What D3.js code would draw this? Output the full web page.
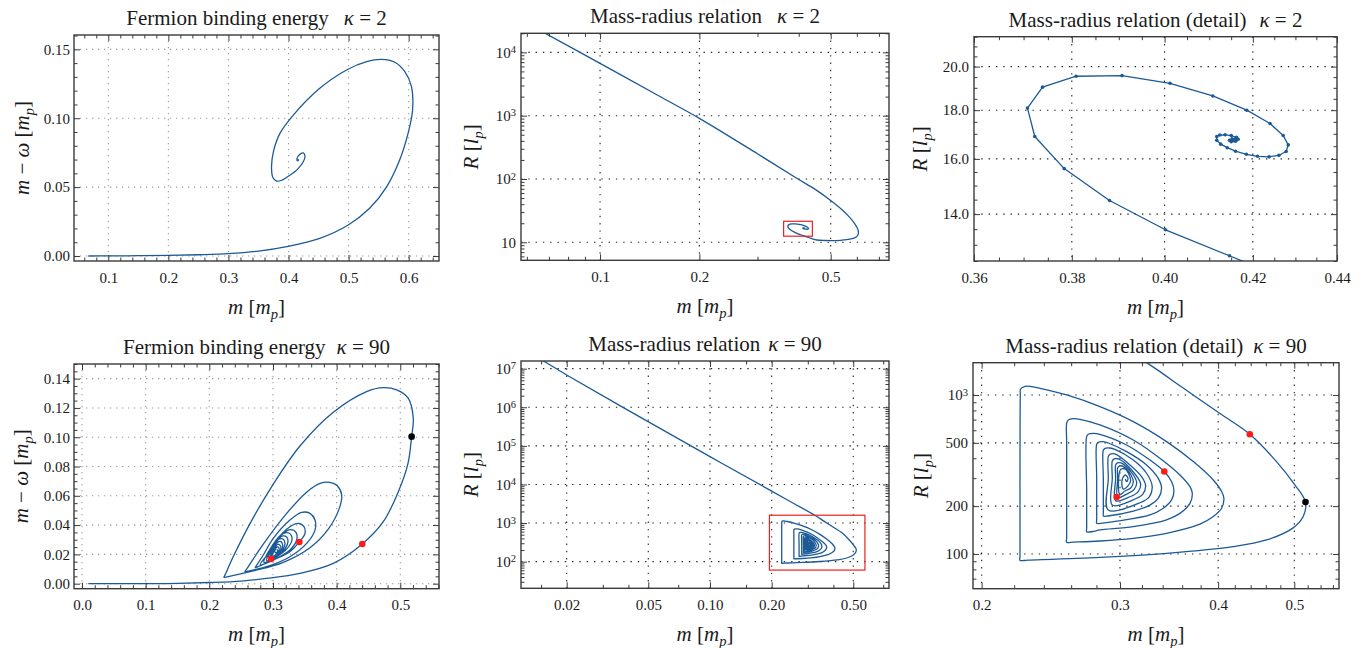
<!DOCTYPE html>
<html><head><meta charset="utf-8">
<script src="https://cdn.jsdelivr.net/npm/d3@7"></script>
<style>
body{margin:0;background:#fff}
svg text{font-family:"Liberation Serif","Times New Roman",serif;fill:#1a1a1a;white-space:pre}
</style>
</head><body>
<svg id="chart" width="1364" height="648"></svg>
<script>
// ---------------- DATA ----------------
// kappa = 2 : binding energy m - omega versus m
const k2_energy = [
 [0.0667,0.0000],[0.10,0.0001],[0.15,0.0002],[0.20,0.0004],[0.25,0.0009],[0.30,0.0017],[0.35,0.0035],
 [0.397,0.0068],[0.452,0.0128],[0.4994,0.0225],[0.535,0.0346],[0.563,0.0500],[0.585,0.0697],[0.599,0.0890],
 [0.6065,0.1060],[0.6047,0.1229],[0.5936,0.1338],[0.577,0.1406],[0.5548,0.1427],[0.530,0.1410],[0.4966,0.1350],
 [0.452,0.1217],[0.408,0.1023],[0.3857,0.0890],[0.3750,0.0760],[0.3717,0.0650],[0.3740,0.0570],[0.3800,0.0544],
 [0.3880,0.0548],[0.3967,0.0570],[0.4163,0.0636],[0.4274,0.0721],[0.4245,0.0748],[0.4180,0.0735],[0.4140,0.0705],
 [0.4150,0.0690],[0.4165,0.0697],[0.4155,0.0702]
];
// kappa = 2 : mass-radius relation (sampled points, shown as dots in the detail view)
const k2_massRadius = [
 [0.0667,21300],[0.10,6700],[0.15,2080],[0.20,908],[0.30,250],[0.3945,102.6],[0.45,68],[0.4977,46.6],[0.54,33],
 [0.57,25],[0.59,20],[0.602,16.8],[0.607,14.5],[0.604,12.9],[0.596,12.0],[0.58,11.4],
 [0.559,11.0],[0.535,10.75],[0.5094,10.62],[0.48,10.68],[0.4536,10.88],[0.4420,11.25],[0.4288,11.92],
 [0.4146,12.66],[0.4002,13.48],[0.3880,14.47],[0.3784,15.63],[0.3723,16.89],[0.3708,18.09],[0.3739,19.03],
 [0.3809,19.54],[0.3907,19.57],[0.4012,19.21],[0.4108,18.63],[0.4186,18.00],[0.4240,17.43],[0.4271,16.93],
 [0.4283,16.55],[0.4278,16.29],[0.4261,16.14],[0.4238,16.08],[0.4211,16.10],[0.4185,16.18],[0.4160,16.30],
 [0.4141,16.44],[0.4126,16.58],[0.4117,16.74],[0.4117,16.89],[0.4124,16.95],[0.4136,16.96],[0.4150,16.93],
 [0.4162,16.86],[0.4166,16.78],[0.4160,16.70],[0.4150,16.68],[0.4146,16.74],[0.4152,16.80],[0.4160,16.79],
 [0.4161,16.74],[0.4156,16.72],[0.4154,16.75],[0.4157,16.76]
];
// kappa = 90 : binding energy versus m
const k90_energy = [
 [0.0099,0.0000],[0.10,0.0000],[0.15,0.0002],[0.20,0.0008],[0.25,0.0018],[0.29,0.0036],[0.3424,0.0071],
 [0.3948,0.0139],[0.4403,0.0271],[0.4733,0.0423],[0.4969,0.0628],[0.5120,0.0820],[0.5178,0.1004],[0.5204,0.1129],
 [0.5126,0.1266],[0.4942,0.1323],[0.4733,0.1338],[0.4471,0.1311],[0.3948,0.1170],[0.3424,0.0940],[0.3005,0.0680],
 [0.2639,0.0410],[0.2377,0.0185],[0.2250,0.0062],[0.2230,0.0043],
 [0.2280,0.0047],[0.2691,0.0087],[0.3162,0.0146],[0.3581,0.0246],[0.3869,0.0373],[0.4042,0.0514],[0.4079,0.0606],[0.4010,0.0669],
 [0.3895,0.0692],[0.3738,0.0685],[0.3529,0.0625],[0.3215,0.0480],[0.2848,0.0270],[0.2590,0.0102],[0.2560,0.0082],
 [0.2600,0.0085],[0.2901,0.0116],[0.3267,0.0184],[0.3529,0.0275],[0.3660,0.0366],[0.3660,0.0435],[0.3581,0.0480],[0.3450,0.0487],
 [0.3267,0.0435],[0.3005,0.0310],[0.2848,0.0196],[0.2745,0.0126],[0.2721,0.0110],
 [0.2760,0.0115],[0.3005,0.0162],[0.3267,0.0219],[0.3414,0.0285],[0.3503,0.0344],[0.3487,0.0389],[0.3398,0.0412],[0.3267,0.0389],
 [0.3058,0.0298],[0.2953,0.0219],[0.2801,0.0130],
 [0.3058,0.0173],[0.3267,0.0230],[0.3372,0.0298],[0.3361,0.0351],[0.3277,0.0369],[0.3136,0.0337],[0.2979,0.0253],[0.2859,0.0146],
 [0.3058,0.0184],[0.3225,0.0241],[0.3298,0.0298],[0.3277,0.0337],[0.3204,0.0348],[0.3084,0.0314],[0.2979,0.0246],[0.2901,0.0157],
 [0.3084,0.0191],[0.3194,0.0241],[0.3236,0.0287],[0.3215,0.0319],[0.3152,0.0326],[0.3058,0.0291],[0.2979,0.0237],[0.2932,0.0168],
 [0.3084,0.0196],[0.3162,0.0237],[0.3188,0.0275],[0.3162,0.0303],[0.3099,0.0305],[0.3031,0.0271],[0.2979,0.0219],[0.2963,0.0175],
 [0.3084,0.0200],[0.3141,0.0234],[0.3152,0.0264],[0.3126,0.0287],[0.3068,0.0282],[0.3016,0.0246],[0.2979,0.0182],
 [0.3073,0.0200],[0.3120,0.0230],[0.3115,0.0260],[0.3073,0.0269],[0.3026,0.0237],[0.3000,0.0189],
 [0.3060,0.0205],[0.3095,0.0228],[0.3085,0.0250],[0.3050,0.0245],[0.3030,0.0215],[0.3060,0.0212],[0.3075,0.0228],[0.3055,0.0232]
];
// kappa = 90 : mass-radius relation
const k90_massRadius = [
 [0.0100,5.6e7],[0.0154,1.58e7],[0.02,6.85e6],[0.0378,9.8e5],[0.10,52600],[0.20,6710],[0.255,3260],[0.3243,1597],
 [0.3611,1105],[0.4021,764],[0.4389,566],[0.4746,381],[0.5008,272],[0.5167,212],[0.5132,172],[0.4983,146],
 [0.4609,122.5],[0.4181,111.2],[0.3439,101],[0.2829,95.3],[0.2290,91.6],[0.2238,91.2],
 [0.2238,97],[0.2238,152],[0.2238,400],[0.2240,1000],[0.2242,1091],[0.2271,1134],[0.2316,1128],[0.2373,1101],[0.2566,1000],
 [0.2829,845],[0.3119,680],[0.3439,509],[0.3719,381],[0.3943,292],[0.4041,247],[0.4068,224],[0.4041,194],
 [0.3943,172],[0.3792,154],[0.3439,135],[0.3119,125.5],[0.2829,120.7],[0.2620,118.8],[0.2566,118.4],
 [0.2566,126],[0.2566,200],[0.2566,500],[0.2566,664],[0.2578,696],[0.2616,710],[0.2668,703],[0.2829,648],[0.3119,521],
 [0.3372,400],[0.3576,314],[0.3683,265],[0.3708,241],[0.3683,208],[0.3576,180],[0.3439,164],[0.3119,148.5],
 [0.2829,141.6],[0.2770,138.5],[0.2721,138.1],
 [0.2721,146],[0.2721,250],[0.2721,547],[0.2734,566],[0.2774,574],[0.2829,566],[0.3059,485],[0.3275,390],[0.3416,330],
 [0.3490,285],[0.3514,250],[0.3490,219],[0.3406,194],[0.3275,176],[0.2971,161],[0.2850,156.4],[0.2802,156],
 [0.2802,164],[0.2802,300],[0.2802,490],[0.2815,504],[0.2857,509],[0.2899,499],[0.3059,440],[0.3243,363],[0.3356,299],
 [0.3389,259],[0.3356,224],[0.3275,203],[0.3119,186],[0.2895,173.4],[0.2857,173],
 [0.2857,181],[0.2857,300],[0.2857,449],[0.2871,462],[0.2913,464],[0.2956,455],[0.3119,390],[0.3243,322],[0.3297,265],
 [0.3269,229],[0.3181,210],[0.2899,189],
 [0.2899,300],[0.2899,411],[0.2913,423],[0.2956,425.5],[0.3089,363],[0.3196,306.5],[0.3234,269],[0.3206,237],
 [0.3119,219],[0.2933,203],
 [0.2933,300],[0.2933,384.5],[0.2948,396],[0.2986,396],[0.3104,337.5],[0.3187,276],[0.3165,247],[0.3089,229],[0.2962,216.5],
 [0.2962,300],[0.2962,363],[0.2977,374],[0.3008,374],[0.3104,325],[0.3150,282],[0.3128,255],[0.3059,238],[0.2980,226],
 [0.2980,300],[0.2980,349],[0.2999,358],[0.3029,356],[0.3098,314],[0.3119,285],[0.3098,261],[0.3044,249],[0.2999,237],
 [0.2999,334],[0.3020,344],[0.3050,341],[0.3095,291],[0.3071,268],[0.3029,256],[0.3017,272],[0.3023,299],
 [0.3047,314],[0.3071,299],[0.3059,285],[0.3047,296]
];
// highlighted configurations
const k90_redMarks_E = [[0.4403,0.0271],[0.3414,0.0285],[0.2969,0.0168]];
const k90_redMarks_R = [[0.4389,566],[0.3416,330],[0.2971,228]];
const k90_blackMark_E = [[0.5178,0.1004]];
const k90_blackMark_R = [[0.5167,212]];

// ticks and labels
const p1_xTicks = [0.1,0.2,0.3,0.4,0.5,0.6], p1_xLabels = ["0.1","0.2","0.3","0.4","0.5","0.6"];
const p1_yTicks = [0,0.05,0.10,0.15], p1_yLabels = ["0.00","0.05","0.10","0.15"];
const p2_xTicks = [0.1,0.2,0.5], p2_xLabels = ["0.1","0.2","0.5"];
const p2_yTicks = [10,100,1000,10000], p2_yLabels = ["10","10^2","10^3","10^4"];
const p3_xTicks = [0.36,0.38,0.40,0.42,0.44], p3_xLabels = ["0.36","0.38","0.40","0.42","0.44"];
const p3_yTicks = [14,16,18,20], p3_yLabels = ["14.0","16.0","18.0","20.0"];
const p4_xTicks = [0,0.1,0.2,0.3,0.4,0.5], p4_xLabels = ["0.0","0.1","0.2","0.3","0.4","0.5"];
const p4_yTicks = [0,0.02,0.04,0.06,0.08,0.10,0.12,0.14], p4_yLabels = ["0.00","0.02","0.04","0.06","0.08","0.10","0.12","0.14"];
const p5_xTicks = [0.02,0.05,0.10,0.20,0.50], p5_xLabels = ["0.02","0.05","0.10","0.20","0.50"];
const p5_yTicks = [1e2,1e3,1e4,1e5,1e6,1e7], p5_yLabels = ["10^2","10^3","10^4","10^5","10^6","10^7"];
const p6_xTicks = [0.2,0.3,0.4,0.5], p6_xLabels = ["0.2","0.3","0.4","0.5"];
const p6_yTicks = [100,200,500,1000], p6_yLabels = ["100","200","500","10^3"];

// ---------------- DRAWING ----------------
const svg = d3.select("#chart");
const BLUE = "#1b5a97", RED = "#ff1a1a", FRAME = "#3a3a3a";
const FONT = '"Liberation Serif","Times New Roman",serif';

function linMinor(dom, step, majors) {
  const out = [];
  const n0 = Math.ceil(dom[0] / step - 1e-9), n1 = Math.floor(dom[1] / step + 1e-9);
  for (let n = n0; n <= n1; n++) {
    const v = +(n * step).toFixed(6);
    if (!majors.some(m => Math.abs(m - v) < step * 1e-3)) out.push(v);
  }
  return out;
}
function logMinor(dom, mults, majors) {
  const out = [];
  for (let e = Math.floor(Math.log10(dom[0])) - 1; e <= Math.ceil(Math.log10(dom[1])); e++) {
    mults.forEach(k => {
      const v = k * Math.pow(10, e);
      if (v >= dom[0] && v <= dom[1] && !majors.some(m => Math.abs(m - v) / v < 1e-6)) out.push(v);
    });
  }
  return out;
}
function richText(sel, parts) {
  parts.forEach(p => {
    const ts = sel.append("tspan").text(p.t);
    if (p.i) ts.attr("font-style", "italic");
    if (p.dx) ts.attr("dx", p.dx);
    if (p.sub) ts.attr("font-size", p.sub).attr("dy", 5);
    if (p.unsub) ts.attr("dy", -5);
  });
}
function supLabel(sel, s) {
  sel.text(null);
  const parts = s.split("^");
  sel.append("tspan").text(parts[0]);
  if (parts[1]) sel.append("tspan").attr("dy", "-0.45em").attr("font-size", 10.5).text(parts[1]);
}

function drawPanel(o) {
  const g = svg.append("g");
  const x = (o.xlog ? d3.scaleLog() : d3.scaleLinear()).domain(o.xdom).range([o.x0, o.x1]);
  const y = (o.ylog ? d3.scaleLog() : d3.scaleLinear()).domain(o.ydom).range([o.y1, o.y0]);
  const cid = "clip" + o.id;
  svg.append("clipPath").attr("id", cid).append("rect")
    .attr("x", o.x0).attr("y", o.y0).attr("width", o.x1 - o.x0).attr("height", o.y1 - o.y0);

  const grid = g.append("g").attr("stroke", o.gridColor).attr("stroke-width", 1.1)
    .attr("stroke-dasharray", o.gridDash).attr("fill", "none");
  o.xTicks.forEach(v => { const p = x(v); if (p > o.x0 + 1 && p < o.x1 - 1)
    grid.append("line").attr("x1", p).attr("x2", p).attr("y1", o.y0).attr("y2", o.y1); });
  o.yTicks.forEach(v => { const p = y(v); if (p > o.y0 + 1 && p < o.y1 - 1)
    grid.append("line").attr("x1", o.x0).attr("x2", o.x1).attr("y1", p).attr("y2", p); });

  const plot = g.append("g").attr("clip-path", `url(#${cid})`);
  const line = d3.line().x(d => x(d[0])).y(d => y(d[1]))
    .curve(o.linear ? d3.curveLinear : d3.curveCatmullRom.alpha(0.5));
  plot.append("path").datum(o.data).attr("d", line).attr("fill", "none")
    .attr("stroke", BLUE).attr("stroke-width", 1.3).attr("stroke-linejoin", "round");
  if (o.dots) plot.append("g").selectAll("circle").data(o.data).join("circle")
    .attr("cx", d => x(d[0])).attr("cy", d => y(d[1])).attr("r", 1.8).attr("fill", BLUE);
  if (o.red) plot.append("g").selectAll("circle").data(o.red).join("circle")
    .attr("cx", d => x(d[0])).attr("cy", d => y(d[1])).attr("r", 3.3).attr("fill", RED);
  if (o.black) plot.append("g").selectAll("circle").data(o.black).join("circle")
    .attr("cx", d => x(d[0])).attr("cy", d => y(d[1])).attr("r", 3.3).attr("fill", "#000");
  if (o.box) plot.append("rect")
    .attr("x", x(o.box[0][0])).attr("y", y(o.box[1][1]))
    .attr("width", x(o.box[0][1]) - x(o.box[0][0])).attr("height", y(o.box[1][0]) - y(o.box[1][1]))
    .attr("fill", "none").attr("stroke", "#ee2020").attr("stroke-width", 1.2);

  function styleAxis(a) {
    a.select(".domain").remove();
    a.attr("font-family", FONT).attr("font-size", 15);
    a.selectAll("line").attr("stroke", FRAME).attr("stroke-width", 1);
    a.selectAll("text").attr("fill", "#1a1a1a");
    return a;
  }
  const bottom = styleAxis(g.append("g").attr("transform", `translate(0,${o.y1})`)
    .call(d3.axisBottom(x).tickValues(o.xTicks).tickSize(-6).tickSizeOuter(0).tickPadding(11)
      .tickFormat((d, i) => o.xLabels[i])));
  styleAxis(g.append("g").attr("transform", `translate(0,${o.y1})`)
    .call(d3.axisBottom(x).tickValues(o.xMinor).tickSize(-3.5).tickSizeOuter(0).tickFormat("")));
  styleAxis(g.append("g").attr("transform", `translate(0,${o.y0})`)
    .call(d3.axisTop(x).tickValues(o.xTicks).tickSize(-6).tickSizeOuter(0).tickFormat("")));
  styleAxis(g.append("g").attr("transform", `translate(0,${o.y0})`)
    .call(d3.axisTop(x).tickValues(o.xMinor).tickSize(-3.5).tickSizeOuter(0).tickFormat("")));
  const left = styleAxis(g.append("g").attr("transform", `translate(${o.x0},0)`)
    .call(d3.axisLeft(y).tickValues(o.yTicks).tickSize(-6).tickSizeOuter(0).tickPadding(o.yPad || 5)
      .tickFormat((d, i) => o.yLabels[i])));
  left.selectAll(".tick text").each(function(d, i) { supLabel(d3.select(this), o.yLabels[i]); });
  bottom.selectAll(".tick text").each(function(d, i) { supLabel(d3.select(this), o.xLabels[i]); });
  styleAxis(g.append("g").attr("transform", `translate(${o.x0},0)`)
    .call(d3.axisLeft(y).tickValues(o.yMinor).tickSize(-3.5).tickSizeOuter(0).tickFormat("")));
  styleAxis(g.append("g").attr("transform", `translate(${o.x1},0)`)
    .call(d3.axisRight(y).tickValues(o.yTicks).tickSize(-6).tickSizeOuter(0).tickFormat("")));
  styleAxis(g.append("g").attr("transform", `translate(${o.x1},0)`)
    .call(d3.axisRight(y).tickValues(o.yMinor).tickSize(-3.5).tickSizeOuter(0).tickFormat("")));

  g.append("rect").attr("x", o.x0).attr("y", o.y0).attr("width", o.x1 - o.x0).attr("height", o.y1 - o.y0)
    .attr("fill", "none").attr("stroke", FRAME).attr("stroke-width", 1.4);

  const t = g.append("text").attr("x", (o.x0 + o.x1) / 2).attr("y", o.y0 - 10)
    .attr("text-anchor", "middle").attr("font-size", 21);
  richText(t, [{t: o.title}, {t: "κ", i: true, dx: o.titleGap}, {t: " = " + o.kappa}]);

  const xl = g.append("text").attr("x", (o.x0 + o.x1) / 2).attr("y", o.y1 + 52.5)
    .attr("text-anchor", "middle").attr("font-size", 21);
  richText(xl, [{t: "m", i: true}, {t: " ["}, {t: "m", i: true}, {t: "p", i: true, sub: 14.5}, {t: "]", unsub: true}]);
  const yl = g.append("text")
    .attr("transform", `translate(${o.x0 - o.ylabOff},${(o.y0 + o.y1) / 2}) rotate(-90)`)
    .attr("text-anchor", "middle").attr("font-size", 21);
  richText(yl, o.ylabel);
}

const yLabE = [{t: "m", i: true}, {t: " − "}, {t: "ω", i: true}, {t: " ["}, {t: "m", i: true},
  {t: "p", i: true, sub: 14.5}, {t: "]", unsub: true}];
const yLabR = [{t: "R", i: true}, {t: " ["}, {t: "l", i: true}, {t: "p", i: true, sub: 14.5}, {t: "]", unsub: true}];

const p3_xdom = [0.36, 0.44], p3_ydom = [12.5, 21.5];
const p6_xdom = [0.195, 0.57], p6_ydom = [60.5, 1596];
const gridGray = "#9a9a9a", gridDark = "#222";

drawPanel({id: 1, x0: 74, x1: 439, y0: 35, y1: 261, xdom: [0.0429, 0.6505], ydom: [-0.00363, 0.1604],
  xTicks: p1_xTicks, xLabels: p1_xLabels, yTicks: p1_yTicks, yLabels: p1_yLabels,
  xMinor: linMinor([0.0429, 0.6505], 0.02, p1_xTicks), yMinor: linMinor([0, 0.16], 0.01, p1_yTicks),
  gridColor: gridGray, gridDash: "1.3,4.7", data: k2_energy,
  title: "Fermion binding energy", titleGap: 15, kappa: "2", ylabel: yLabE, ylabOff: 44.7, yPad: 4});

drawPanel({id: 2, x0: 521, x1: 889, y0: 33.3, y1: 260.3, xlog: true, ylog: true,
  xdom: [0.0576, 0.751], ydom: [5.2, 20000],
  xTicks: p2_xTicks, xLabels: p2_xLabels, yTicks: p2_yTicks, yLabels: p2_yLabels,
  xMinor: logMinor([0.0576, 0.751], [2,3,4,5,6,7,8,9], p2_xTicks),
  yMinor: logMinor([5.2, 20000], [2,3,4,5,6,7,8,9], p2_yTicks),
  gridColor: gridDark, gridDash: "1.4,5.9", data: k2_massRadius, box: [p3_xdom, p3_ydom],
  title: "Mass-radius relation", titleGap: 15, kappa: "2", ylabel: yLabR, ylabOff: 42.7, yPad: 5});

drawPanel({id: 3, x0: 974, x1: 1337, y0: 36.7, y1: 261, xlog: true, ylog: true,
  xdom: p3_xdom, ydom: p3_ydom,
  xTicks: p3_xTicks, xLabels: p3_xLabels, yTicks: p3_yTicks, yLabels: p3_yLabels,
  xMinor: linMinor(p3_xdom, 0.005, p3_xTicks), yMinor: linMinor(p3_ydom, 0.5, p3_yTicks),
  gridColor: gridDark, gridDash: "1.4,5.9", data: k2_massRadius, linear: true, dots: true,
  title: "Mass-radius relation (detail)", titleGap: 13, kappa: "2", ylabel: yLabR, ylabOff: 47.3, yPad: 5});

drawPanel({id: 4, x0: 74, x1: 439, y0: 364, y1: 588.7, xdom: [-0.01257, 0.5608], ydom: [-0.00343, 0.15],
  xTicks: p4_xTicks, xLabels: p4_xLabels, yTicks: p4_yTicks, yLabels: p4_yLabels,
  xMinor: linMinor([-0.01257, 0.5608], 0.02, p4_xTicks), yMinor: linMinor([0, 0.15], 0.005, p4_yTicks),
  gridColor: gridGray, gridDash: "1.3,4.7", data: k90_energy, red: k90_redMarks_E, black: k90_blackMark_E,
  title: "Fermion binding energy", titleGap: 11, kappa: "90", ylabel: yLabE, ylabOff: 45.7, yPad: 4});

drawPanel({id: 5, x0: 521, x1: 889, y0: 361, y1: 588.3, xlog: true, ylog: true,
  xdom: [0.01197, 0.747], ydom: [20.4, 1.58e7],
  xTicks: p5_xTicks, xLabels: p5_xLabels, yTicks: p5_yTicks, yLabels: p5_yLabels,
  xMinor: [0.015, 0.03, 0.04, 0.07, 0.15, 0.3, 0.4, 0.7],
  yMinor: logMinor([20.4, 1.58e7], [2,3,4,5,6,7,8,9], p5_yTicks),
  gridColor: gridDark, gridDash: "1.4,5.9", data: k90_massRadius, box: [p6_xdom, p6_ydom],
  title: "Mass-radius relation", titleGap: 8, kappa: "90", ylabel: yLabR, ylabOff: 42.7, yPad: 5});

drawPanel({id: 6, x0: 973, x1: 1339, y0: 362.7, y1: 588.7, xlog: true, ylog: true,
  xdom: p6_xdom, ydom: p6_ydom,
  xTicks: p6_xTicks, xLabels: p6_xLabels, yTicks: p6_yTicks, yLabels: p6_yLabels,
  xMinor: linMinor(p6_xdom, 0.02, p6_xTicks),
  yMinor: [70, 80, 90, 300, 400, 600, 700, 800, 900],
  gridColor: gridDark, gridDash: "1.4,5.9", data: k90_massRadius, red: k90_redMarks_R, black: k90_blackMark_R,
  title: "Mass-radius relation (detail)", titleGap: 10, kappa: "90", ylabel: yLabR, ylabOff: 44.7, yPad: 5});
</script>
</body></html>
